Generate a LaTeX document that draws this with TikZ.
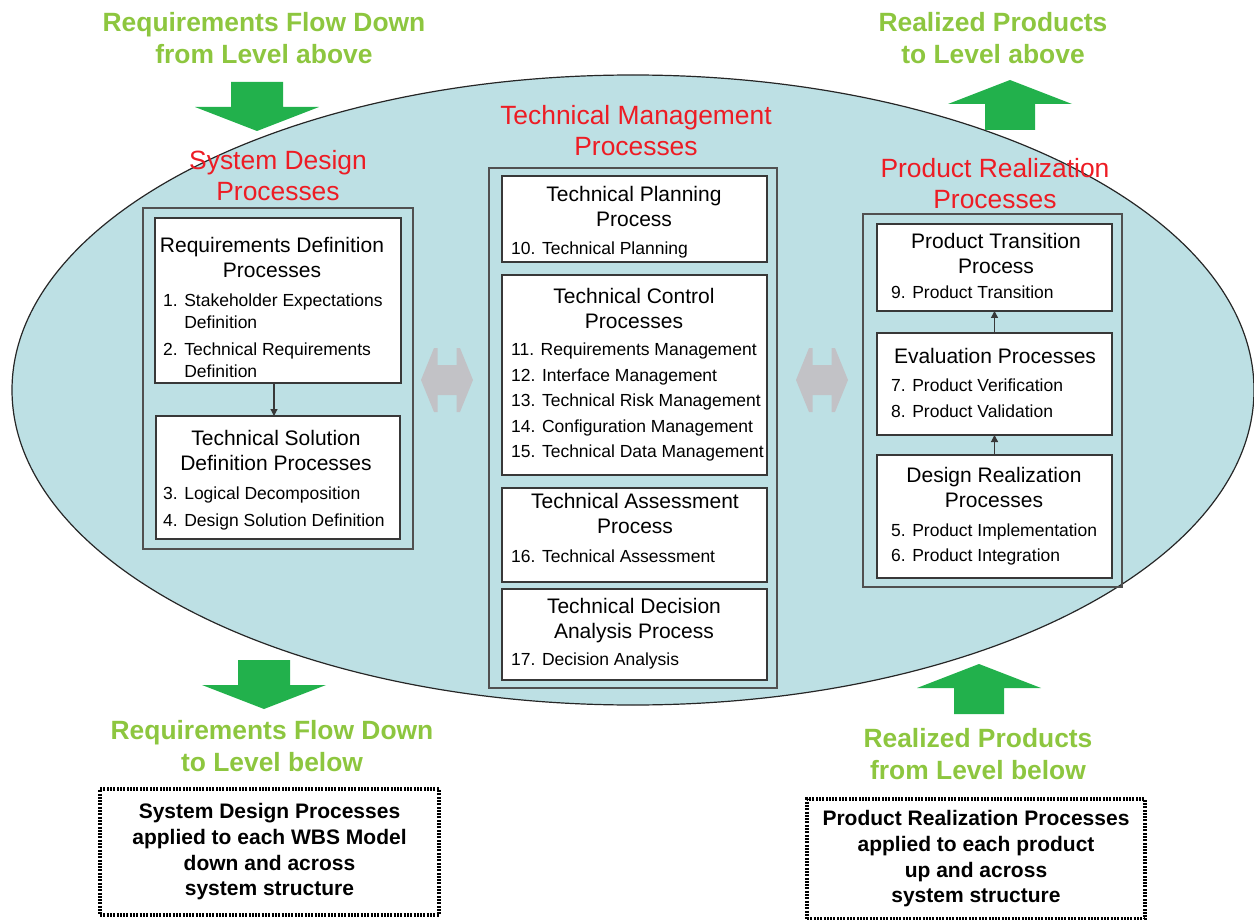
\documentclass[tikz,border=0pt]{standalone}
\usepackage{fontspec}
\setmainfont{Liberation Sans}
\usetikzlibrary{arrows.meta,shapes.geometric}
\definecolor{ellfill}{HTML}{BDE0E4}
\definecolor{lgreen}{HTML}{8DC63F}
\definecolor{dgreen}{HTML}{22B14C}
\definecolor{tred}{HTML}{ED1C24}
\definecolor{garrow}{HTML}{C2C2C6}
\definecolor{boxline}{HTML}{383838}
\definecolor{contline}{HTML}{505050}
\tikzset{
  container/.style={draw=contline, line width=2pt, anchor=north west, inner sep=0, outer sep=0},
  pbox/.style={draw=boxline, line width=1.3pt, fill=white, anchor=north west, inner sep=0, outer sep=0},
  gtext/.style={text=lgreen, font=\bfseries\fontsize{26.4}{32}\selectfont, align=center, inner sep=0, anchor=north},
  rtext/.style={text=tred, font=\fontsize{26.4}{31.5}\selectfont, align=center, inner sep=0, anchor=north},
  ttl/.style={font=\fontsize{21}{25.5}\selectfont, align=center, inner sep=0, anchor=north},
  itm/.style={font=\fontsize{17.5}{22}\selectfont, align=left, inner sep=0, anchor=north west},
  notebox/.style={draw=black, line width=4pt, dash pattern=on 2pt off 1.3pt, align=center,
     font=\bfseries\fontsize{21}{25.7}\selectfont, inner sep=0, anchor=north west},
  flow/.style={-{Triangle[length=7pt,width=7pt]}, line width=1.2pt, draw=boxline},
  greendown/.pic={\fill[dgreen] (-26,0) -- (26,0) -- (26,25) -- (62,25) -- (0,49) -- (-62,25) -- (-26,25) -- cycle;},
  greenup/.pic={\fill[dgreen] (0,0) -- (62,24) -- (25,24) -- (25,50) -- (-25,50) -- (-25,24) -- (-62,24) -- cycle;},
  grayboth/.pic={\fill[garrow] (-26,0) -- (-13,-32) -- (-9.5,-32) -- (-9.5,-15) -- (9.5,-15) -- (9.5,-32) -- (13,-32) -- (26,0)
      -- (13,32) -- (9.5,32) -- (9.5,15) -- (-9.5,15) -- (-9.5,32) -- (-13,32) -- cycle;}
}
\begin{document}
\begin{tikzpicture}[x=1pt,y=-1pt]
\useasboundingbox (0,0) rectangle (1254,920);

% big ellipse
\node[ellipse, draw=black!85, line width=1.2pt, fill=ellfill, minimum width=1242, minimum height=630, inner sep=0] (ell) at (633,390) {};

% green arrows
\pic (gtl) at (257,82) {greendown};
\pic (gbl) at (264,660) {greendown};
\pic (gtr) at (1010,80) {greenup};
\pic (gbr) at (979,664) {greenup};

% green texts
\node[gtext] (t1) at (264,12) {Requirements Flow Down\\from Level above};
\node[gtext] (t2) at (993,12) {Realized Products\\to Level above};
\node[gtext] (t3) at (272,720) {Requirements Flow Down\\to Level below};
\node[gtext] (t4) at (978,728) {Realized Products\\from Level below};

% red titles
\node[rtext] (r1) at (636,105) {Technical Management\\Processes};
\node[rtext] (r2) at (278,150) {System Design\\Processes};
\node[rtext] (r3) at (995,158) {Product Realization\\Processes};

% containers
\node[container, minimum width=270, minimum height=341] (sd) at (143,208) {};
\node[container, minimum width=288, minimum height=520] (tm) at (489,168) {};
\node[container, minimum width=259, minimum height=373] (pr) at (863,214) {};

% left boxes
\node[pbox, minimum width=246, minimum height=165] (rd) at (155,218) {};
\node[pbox, minimum width=244, minimum height=123] (ts) at (156,416) {};
\node[ttl] (rdt) at (272,237) {Requirements Definition\\Processes};
\node[itm] (rdi) at (163,294) {1. Stakeholder Expectations\\\hphantom{1. }Definition\\[5pt]2. Technical Requirements\\\hphantom{2. }Definition};
\node[ttl] (tst) at (276,430) {Technical Solution\\Definition Processes};
\node[itm] (tsi) at (163,487) {3. Logical Decomposition\\[5pt]4. Design Solution Definition};

% middle boxes
\node[pbox, minimum width=265, minimum height=86] (tp) at (502,176) {};
\node[pbox, minimum width=265, minimum height=200] (tc) at (502,275) {};
\node[pbox, minimum width=265, minimum height=94] (ta) at (502,488) {};
\node[pbox, minimum width=265, minimum height=91] (td) at (502,589) {};
\node[ttl] (tpt) at (634,186) {Technical Planning\\Process};
\node[itm] (tpi) at (511,242) {10. Technical Planning};
\node[ttl] (tct) at (634,288) {Technical Control\\Processes};
\node[itm] (tci) at (511,343) {11. Requirements Management\\[3.5pt]12. Interface Management\\[3.5pt]13. Technical Risk Management\\[3.5pt]14. Configuration Management\\[3.5pt]15. Technical Data Management};
\node[ttl] (tat) at (635,493) {Technical Assessment\\Process};
\node[itm] (tai) at (511,550) {16. Technical Assessment};
\node[ttl] (tdt) at (634,598) {Technical Decision\\Analysis Process};
\node[itm] (tdi) at (511,653) {17. Decision Analysis};

% right boxes
\node[pbox, minimum width=235, minimum height=87] (pt) at (877,224) {};
\node[pbox, minimum width=235, minimum height=102] (ev) at (877,333) {};
\node[pbox, minimum width=235, minimum height=123] (dr) at (877,455) {};
\node[ttl] (ptt) at (996,233) {Product Transition\\Process};
\node[itm] (pti) at (891,286) {9. Product Transition};
\node[ttl] (evt) at (995,348) {Evaluation Processes};
\node[itm] (evi) at (891,379) {7. Product Verification\\[4pt]8. Product Validation};
\node[ttl] (drt) at (994,467) {Design Realization\\Processes};
\node[itm] (dri) at (891,524) {5. Product Implementation\\[3pt]6. Product Integration};

% flow arrows
\draw[flow] ([xshift=-4]rd.south) -- ([xshift=-4]ts.north);
\draw[flow] (dr.north) -- (ev.south);
\draw[flow] (ev.north) -- (pt.south);

% gray double arrows
\pic (gl) at (447,380) {grayboth};
\pic (gr) at (822,380) {grayboth};

% dotted notes
\node[notebox, minimum width=339, minimum height=126] (n1) at (98,787) {System Design Processes\\applied to each WBS Model\\down and across\\system structure};
\node[notebox, minimum width=338, minimum height=120] (n2) at (805,797) {Product Realization Processes\\applied to each product\\up and across\\system structure};
\end{tikzpicture}
\end{document}
